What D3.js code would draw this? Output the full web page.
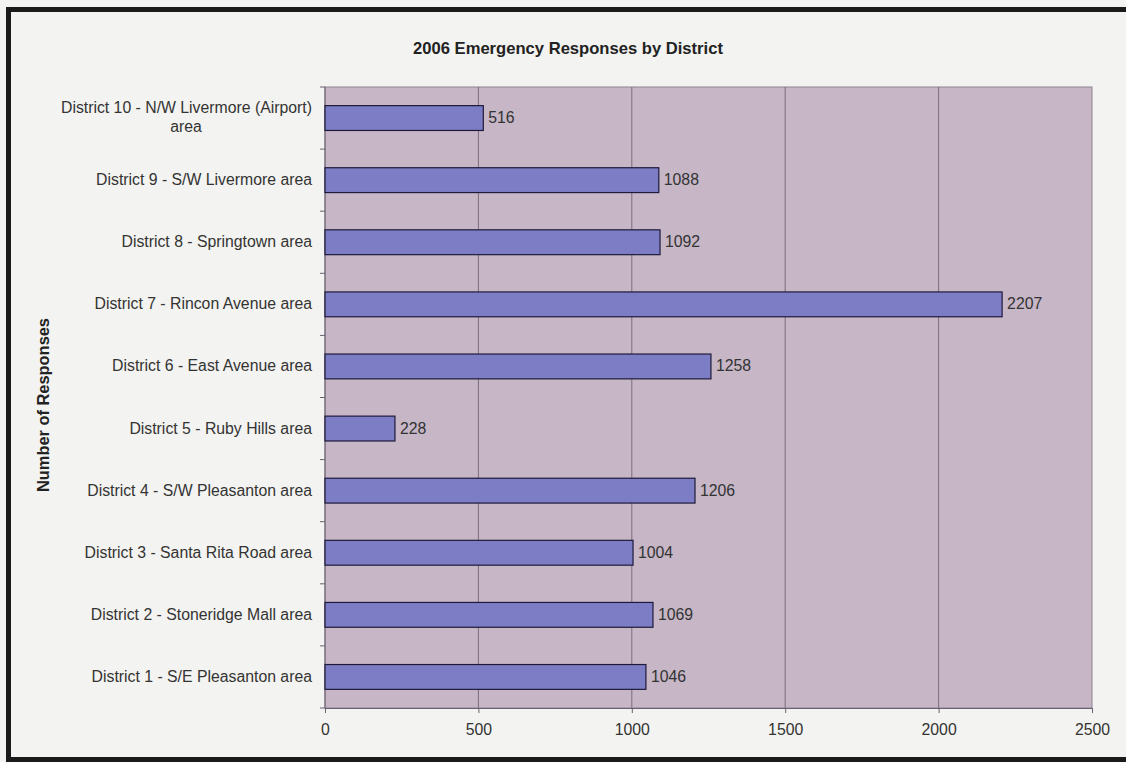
<!DOCTYPE html>
<html>
<head>
<meta charset="utf-8">
<script src="https://cdn.jsdelivr.net/npm/d3@7"></script>
<style>
  body { margin: 0; background: #f3f3f1; }
  svg { display: block; font-family: "Liberation Sans", Arial, sans-serif; }
</style>
</head>
<body>
<div id="chart"></div>
<script>
let districts = [
    "District 1 - S/E Pleasanton area",
    "District 2 - Stoneridge Mall area",
    "District 3 - Santa Rita Road area",
    "District 4 - S/W Pleasanton area",
    "District 5 - Ruby Hills area",
    "District 6 - East Avenue area",
    "District 7 - Rincon Avenue area",
    "District 8 - Springtown area",
    "District 9 - S/W Livermore area",
    "District 10 - N/W Livermore (Airport) area"
];
let responses = [1046, 1069, 1004, 1206, 228, 1258, 2207, 1092, 1088, 516];
let xTicks = [0, 500, 1000, 1500, 2000, 2500];

let W = 1126, H = 762;
let plot = {left: 325, right: 1092, top: 87, bottom: 708};
let fs = 15.8;

let svg = d3.select("#chart").append("svg")
    .attr("width", W)
    .attr("height", H);

// outer frame
svg.append("rect")
    .attr("x", 8.5).attr("y", 9.5)
    .attr("width", W + 20).attr("height", H - 12)
    .attr("fill", "#f3f3f1")
    .attr("stroke", "#1a1a1a")
    .attr("stroke-width", 5);

let x = d3.scaleLinear()
    .domain([0, 2500])
    .range([plot.left, plot.right]);

// district 10 on top
let y = d3.scaleBand()
    .domain(districts.slice().reverse())
    .range([plot.top, plot.bottom])
    .paddingInner(0.6)
    .paddingOuter(0.3);

let yBand = d3.scaleBand()
    .domain(districts.slice().reverse())
    .range([plot.top, plot.bottom]);

// plot background
svg.append("rect")
    .attr("x", plot.left).attr("y", plot.top)
    .attr("width", plot.right - plot.left)
    .attr("height", plot.bottom - plot.top)
    .attr("fill", "#c6b6c6")
    .attr("stroke", "#8e8492")
    .attr("stroke-width", 1);

// gridlines
svg.selectAll(".grid")
    .data(xTicks.slice(1, -1))
    .join("line")
    .attr("class", "grid")
    .attr("x1", d => x(d)).attr("x2", d => x(d))
    .attr("y1", plot.top).attr("y2", plot.bottom)
    .attr("stroke", "#7a6e7c")
    .attr("stroke-width", 1);

// x axis
let xAxis = svg.append("g")
    .attr("transform", `translate(0,${plot.bottom})`)
    .call(d3.axisBottom(x).tickValues(xTicks).tickFormat(d3.format("d")).tickSize(5).tickPadding(11));
xAxis.select(".domain").attr("stroke", "#6a6070");
xAxis.selectAll(".tick line").attr("stroke", "#6a6070");
xAxis.selectAll("text").attr("font-size", fs).attr("fill", "#333")
    .attr("font-family", "Liberation Sans, Arial, sans-serif");

// y axis: ticks at category boundaries
let bounds = d3.range(districts.length + 1).map(i => plot.top + i * yBand.step());
svg.append("line")
    .attr("x1", plot.left).attr("x2", plot.left)
    .attr("y1", plot.top).attr("y2", plot.bottom)
    .attr("stroke", "#6a6070");
svg.selectAll(".ytick")
    .data(bounds)
    .join("line")
    .attr("class", "ytick")
    .attr("x1", plot.left - 5).attr("x2", plot.left)
    .attr("y1", d => d).attr("y2", d => d)
    .attr("stroke", "#6a6070");

// category labels
let labels = svg.selectAll(".cat")
    .data(districts)
    .join("text")
    .attr("class", "cat")
    .attr("text-anchor", "end")
    .attr("font-size", fs)
    .attr("fill", "#333");
labels.each(function(d) {
    let t = d3.select(this);
    let cy = yBand(d) + yBand.bandwidth() / 2;
    if (d.startsWith("District 10")) {
        t.append("tspan").attr("x", 312).attr("y", cy - 5).text("District 10 - N/W Livermore (Airport)");
        t.append("tspan").attr("x", 186).attr("y", cy + 14).attr("text-anchor", "middle").text("area");
    } else {
        t.attr("x", 312).attr("y", cy + 5).text(d);
    }
});

// bars
svg.selectAll(".bar")
    .data(districts)
    .join("rect")
    .attr("class", "bar")
    .attr("x", x(0))
    .attr("y", d => y(d))
    .attr("width", (d, i) => x(responses[i]) - x(0))
    .attr("height", y.bandwidth())
    .attr("fill", "#7d7dc6")
    .attr("stroke", "#1e1a3a")
    .attr("stroke-width", 1.2);

// value labels
svg.selectAll(".val")
    .data(districts)
    .join("text")
    .attr("class", "val")
    .attr("x", (d, i) => x(responses[i]) + 5)
    .attr("y", d => y(d) + y.bandwidth() / 2 + 5)
    .attr("font-size", fs)
    .attr("fill", "#333")
    .text((d, i) => responses[i]);

// title
svg.append("text")
    .attr("x", 568).attr("y", 54)
    .attr("text-anchor", "middle")
    .attr("font-size", 16.6)
    .attr("font-weight", "bold")
    .attr("fill", "#222")
    .text("2006 Emergency Responses by District");

// y axis title
svg.append("text")
    .attr("transform", "translate(49,405) rotate(-90)")
    .attr("text-anchor", "middle")
    .attr("font-size", 16.4)
    .attr("font-weight", "bold")
    .attr("fill", "#222")
    .text("Number of Responses");
</script>
</body>
</html>
